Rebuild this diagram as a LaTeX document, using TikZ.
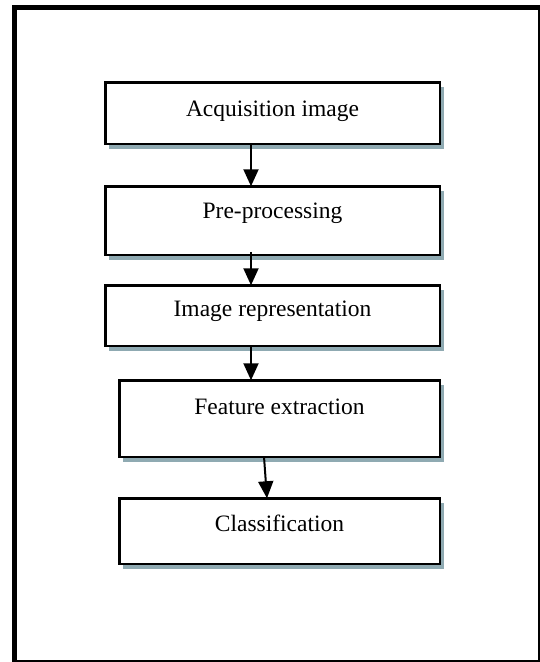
\documentclass[tikz,border=0pt]{standalone}
\usepackage{fontspec}
\setmainfont{Liberation Serif}
\usetikzlibrary{arrows.meta,shadows}
\definecolor{shadowc}{RGB}{143,170,178}
\tikzset{
  stepbox/.style={draw=black, line width=2.5pt, fill=white, inner sep=0pt, outer sep=0pt,
    drop shadow={shadow xshift=4pt, shadow yshift=-5pt, fill=shadowc, opacity=1}},
  boxtext/.style={font=\fontsize{23.5pt}{28pt}\selectfont, inner sep=0pt},
  arr/.style={line width=2pt, -{Triangle[length=17pt,width=15pt]}},
}
\begin{document}
\begin{tikzpicture}[x=1pt,y=-1pt]
\useasboundingbox (0,0) rectangle (540,662);
% outer frame
\draw[line width=5pt] (14.5,5) -- (14.5,662);
\draw[line width=5pt] (12,7.5) -- (540,7.5);
\draw[line width=2pt] (539,5) -- (539,662);
\draw[line width=2pt] (12,661) -- (540,661);
% boxes
\node[stepbox, minimum width=334.5pt, minimum height=61.5pt,
  label={[boxtext, yshift=1.5pt]center:Acquisition image}] (b1) at (272.5,113) {};
\node[stepbox, minimum width=334.5pt, minimum height=68.5pt,
  label={[boxtext, yshift=7pt]center:Pre-processing}] (b2) at (272.5,220.5) {};
\node[stepbox, minimum width=334.5pt, minimum height=60.5pt,
  label={[boxtext, yshift=4pt]center:Image representation}] (b3) at (272.5,315.5) {};
\node[stepbox, minimum width=320.5pt, minimum height=76.5pt,
  label={[boxtext, yshift=11.5pt]center:Feature extraction}] (b4) at (279.5,418.5) {};
\node[stepbox, minimum width=320.5pt, minimum height=65.5pt,
  label={[boxtext, yshift=7.5pt]center:Classification}] (b5) at (279.5,531) {};
% arrows
\draw[arr] ([xshift=-21.5pt]b1.south) -- ([xshift=-21.5pt]b2.north);
\draw[arr] ([xshift=-21.5pt,yshift=3pt]b2.south) -- ([xshift=-21.5pt]b3.north);
\draw[arr] ([xshift=-21.5pt]b3.south) -- ([xshift=-28.5pt]b4.north);
\draw[arr] ([xshift=-15.5pt]b4.south) -- ([xshift=-12.5pt]b5.north);
\end{tikzpicture}
\end{document}
